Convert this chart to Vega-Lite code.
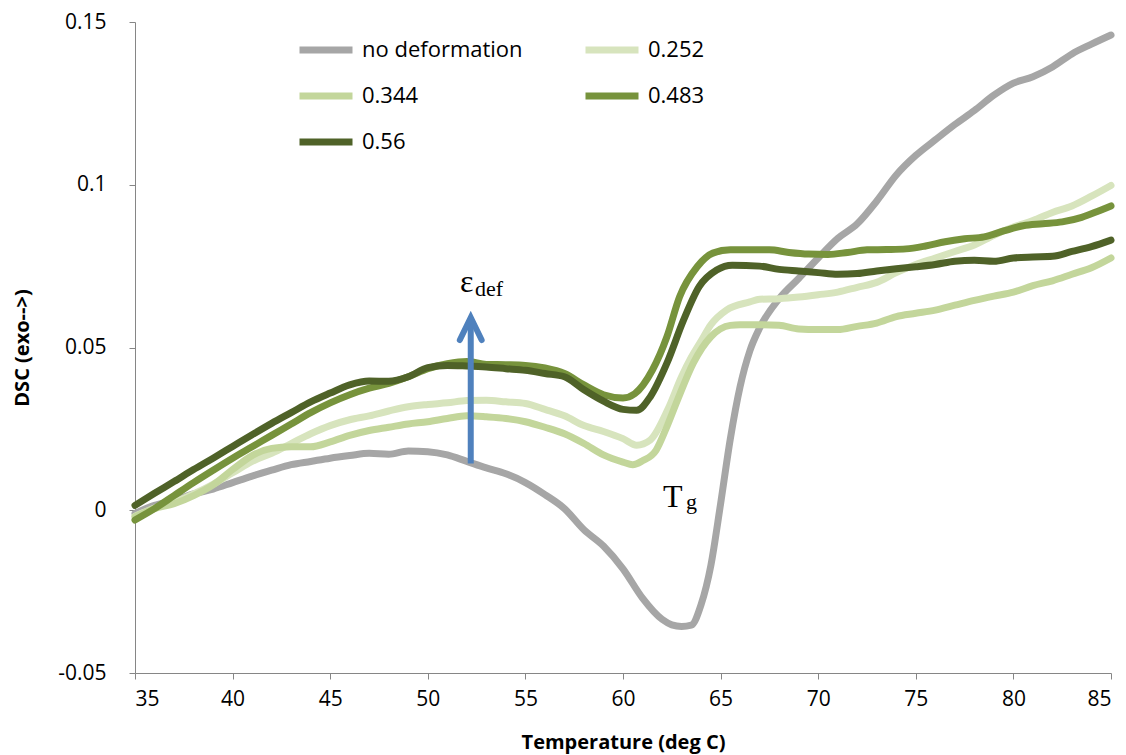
{
  "$schema": "https://vega.github.io/schema/vega-lite/v6.json",
  "width": 976,
  "height": 651,
  "autosize": {"type": "none"},
  "padding": {"left": 135, "top": 22, "right": 15, "bottom": 82},
  "background": "white",
  "config": {
    "view": {"stroke": null},
    "axis": {
      "grid": false,
      "domainColor": "#868686",
      "tickColor": "#868686",
      "tickSize": 6,
      "labelFont": "Open Sans",
      "labelFontSize": 21,
      "labelColor": "#000000",
      "titleFont": "Open Sans",
      "titleFontSize": 20,
      "titleFontWeight": "bold",
      "titleColor": "#000000"
    }
  },
  "datasets": {
    "curves": [
      {"s":"no deformation","T":35,"v":-0.001},{"s":"no deformation","T":36,"v":0.0015},{"s":"no deformation","T":37,"v":0.003},{"s":"no deformation","T":38,"v":0.005},{"s":"no deformation","T":39,"v":0.0065},{"s":"no deformation","T":40,"v":0.0085},{"s":"no deformation","T":41,"v":0.0105},{"s":"no deformation","T":42,"v":0.0123},{"s":"no deformation","T":43,"v":0.014},{"s":"no deformation","T":44,"v":0.015},{"s":"no deformation","T":45,"v":0.016},{"s":"no deformation","T":46,"v":0.0168},{"s":"no deformation","T":47,"v":0.0175},{"s":"no deformation","T":48,"v":0.0172},{"s":"no deformation","T":49,"v":0.0182},{"s":"no deformation","T":50,"v":0.018},{"s":"no deformation","T":51,"v":0.017},{"s":"no deformation","T":52,"v":0.015},{"s":"no deformation","T":53,"v":0.013},{"s":"no deformation","T":54,"v":0.0112},{"s":"no deformation","T":55,"v":0.0085},{"s":"no deformation","T":56,"v":0.0048},{"s":"no deformation","T":57,"v":0.0005},{"s":"no deformation","T":58,"v":-0.006},{"s":"no deformation","T":59,"v":-0.011},{"s":"no deformation","T":60,"v":-0.018},{"s":"no deformation","T":61,"v":-0.027},{"s":"no deformation","T":62,"v":-0.0335},{"s":"no deformation","T":62.5,"v":-0.0352},{"s":"no deformation","T":63,"v":-0.0357},{"s":"no deformation","T":63.5,"v":-0.0353},{"s":"no deformation","T":64,"v":-0.029},{"s":"no deformation","T":64.5,"v":-0.017},{"s":"no deformation","T":65,"v":0.002},{"s":"no deformation","T":65.5,"v":0.022},{"s":"no deformation","T":66,"v":0.038},{"s":"no deformation","T":66.5,"v":0.049},{"s":"no deformation","T":67,"v":0.056},{"s":"no deformation","T":68,"v":0.065},{"s":"no deformation","T":69,"v":0.0712},{"s":"no deformation","T":70,"v":0.0775},{"s":"no deformation","T":71,"v":0.0835},{"s":"no deformation","T":72,"v":0.088},{"s":"no deformation","T":73,"v":0.095},{"s":"no deformation","T":74,"v":0.103},{"s":"no deformation","T":75,"v":0.109},{"s":"no deformation","T":76,"v":0.1138},{"s":"no deformation","T":77,"v":0.1185},{"s":"no deformation","T":78,"v":0.1228},{"s":"no deformation","T":79,"v":0.1275},{"s":"no deformation","T":80,"v":0.1312},{"s":"no deformation","T":81,"v":0.1332},{"s":"no deformation","T":82,"v":0.1362},{"s":"no deformation","T":83,"v":0.1402},{"s":"no deformation","T":84,"v":0.1432},{"s":"no deformation","T":85,"v":0.146},

      {"s":"0.252","T":35,"v":-0.0018},{"s":"0.252","T":36,"v":0.0007},{"s":"0.252","T":37,"v":0.0025},{"s":"0.252","T":38,"v":0.005},{"s":"0.252","T":39,"v":0.008},{"s":"0.252","T":40,"v":0.0115},{"s":"0.252","T":41,"v":0.015},{"s":"0.252","T":42,"v":0.0175},{"s":"0.252","T":43,"v":0.0205},{"s":"0.252","T":44,"v":0.0235},{"s":"0.252","T":45,"v":0.026},{"s":"0.252","T":46,"v":0.0278},{"s":"0.252","T":47,"v":0.029},{"s":"0.252","T":48,"v":0.0305},{"s":"0.252","T":49,"v":0.0318},{"s":"0.252","T":50,"v":0.0325},{"s":"0.252","T":51,"v":0.033},{"s":"0.252","T":52,"v":0.0337},{"s":"0.252","T":53,"v":0.0338},{"s":"0.252","T":54,"v":0.0333},{"s":"0.252","T":55,"v":0.0328},{"s":"0.252","T":56,"v":0.031},{"s":"0.252","T":57,"v":0.029},{"s":"0.252","T":58,"v":0.026},{"s":"0.252","T":59,"v":0.0242},{"s":"0.252","T":60,"v":0.022},{"s":"0.252","T":60.7,"v":0.02},{"s":"0.252","T":61.4,"v":0.0216},{"s":"0.252","T":62.3,"v":0.031},{"s":"0.252","T":63,"v":0.041},{"s":"0.252","T":63.5,"v":0.047},{"s":"0.252","T":64,"v":0.052},{"s":"0.252","T":64.5,"v":0.057},{"s":"0.252","T":65.3,"v":0.0615},{"s":"0.252","T":66.5,"v":0.064},{"s":"0.252","T":67,"v":0.0648},{"s":"0.252","T":68,"v":0.065},{"s":"0.252","T":69,"v":0.0655},{"s":"0.252","T":70,"v":0.0662},{"s":"0.252","T":71,"v":0.067},{"s":"0.252","T":72,"v":0.0685},{"s":"0.252","T":73,"v":0.07},{"s":"0.252","T":74,"v":0.073},{"s":"0.252","T":75,"v":0.0755},{"s":"0.252","T":76,"v":0.0775},{"s":"0.252","T":77,"v":0.0795},{"s":"0.252","T":78,"v":0.0815},{"s":"0.252","T":79,"v":0.0845},{"s":"0.252","T":80,"v":0.087},{"s":"0.252","T":81,"v":0.089},{"s":"0.252","T":82,"v":0.0915},{"s":"0.252","T":83,"v":0.0935},{"s":"0.252","T":84,"v":0.0965},{"s":"0.252","T":85,"v":0.0998},

      {"s":"0.344","T":35,"v":-0.002},{"s":"0.344","T":36,"v":0.0005},{"s":"0.344","T":37,"v":0.002},{"s":"0.344","T":38,"v":0.0045},{"s":"0.344","T":39,"v":0.0078},{"s":"0.344","T":40,"v":0.0125},{"s":"0.344","T":41,"v":0.0168},{"s":"0.344","T":42,"v":0.019},{"s":"0.344","T":43,"v":0.0195},{"s":"0.344","T":44,"v":0.0195},{"s":"0.344","T":45,"v":0.021},{"s":"0.344","T":46,"v":0.023},{"s":"0.344","T":47,"v":0.0245},{"s":"0.344","T":48,"v":0.0255},{"s":"0.344","T":49,"v":0.0265},{"s":"0.344","T":50,"v":0.0272},{"s":"0.344","T":51,"v":0.0282},{"s":"0.344","T":52,"v":0.029},{"s":"0.344","T":53,"v":0.0287},{"s":"0.344","T":54,"v":0.0282},{"s":"0.344","T":55,"v":0.0272},{"s":"0.344","T":56,"v":0.0255},{"s":"0.344","T":57,"v":0.0235},{"s":"0.344","T":58,"v":0.0205},{"s":"0.344","T":59,"v":0.017},{"s":"0.344","T":60,"v":0.0148},{"s":"0.344","T":60.5,"v":0.014},{"s":"0.344","T":61,"v":0.0152},{"s":"0.344","T":61.7,"v":0.0185},{"s":"0.344","T":62.2,"v":0.025},{"s":"0.344","T":62.8,"v":0.034},{"s":"0.344","T":63.6,"v":0.0452},{"s":"0.344","T":64.5,"v":0.0533},{"s":"0.344","T":65.5,"v":0.0568},{"s":"0.344","T":66,"v":0.057},{"s":"0.344","T":67,"v":0.057},{"s":"0.344","T":68,"v":0.0568},{"s":"0.344","T":69,"v":0.0557},{"s":"0.344","T":70,"v":0.0555},{"s":"0.344","T":71,"v":0.0555},{"s":"0.344","T":72,"v":0.0565},{"s":"0.344","T":73,"v":0.0575},{"s":"0.344","T":74,"v":0.0595},{"s":"0.344","T":75,"v":0.0605},{"s":"0.344","T":76,"v":0.0615},{"s":"0.344","T":77,"v":0.063},{"s":"0.344","T":78,"v":0.0645},{"s":"0.344","T":79,"v":0.0658},{"s":"0.344","T":80,"v":0.067},{"s":"0.344","T":81,"v":0.069},{"s":"0.344","T":82,"v":0.0705},{"s":"0.344","T":83,"v":0.0725},{"s":"0.344","T":84,"v":0.0745},{"s":"0.344","T":85,"v":0.0775},

      {"s":"0.483","T":35,"v":-0.003},{"s":"0.483","T":36,"v":0.0005},{"s":"0.483","T":37,"v":0.0045},{"s":"0.483","T":38,"v":0.0085},{"s":"0.483","T":39,"v":0.0123},{"s":"0.483","T":40,"v":0.016},{"s":"0.483","T":41,"v":0.0195},{"s":"0.483","T":42,"v":0.023},{"s":"0.483","T":43,"v":0.0265},{"s":"0.483","T":44,"v":0.03},{"s":"0.483","T":45,"v":0.033},{"s":"0.483","T":46,"v":0.0355},{"s":"0.483","T":47,"v":0.0375},{"s":"0.483","T":48,"v":0.039},{"s":"0.483","T":49,"v":0.041},{"s":"0.483","T":50,"v":0.0435},{"s":"0.483","T":51,"v":0.045},{"s":"0.483","T":52,"v":0.0457},{"s":"0.483","T":53,"v":0.0448},{"s":"0.483","T":54,"v":0.0447},{"s":"0.483","T":55,"v":0.0445},{"s":"0.483","T":56,"v":0.0437},{"s":"0.483","T":57,"v":0.042},{"s":"0.483","T":58,"v":0.0385},{"s":"0.483","T":59,"v":0.0355},{"s":"0.483","T":60,"v":0.0345},{"s":"0.483","T":60.6,"v":0.0358},{"s":"0.483","T":61.5,"v":0.043},{"s":"0.483","T":62.25,"v":0.0533},{"s":"0.483","T":62.9,"v":0.0656},{"s":"0.483","T":63.8,"v":0.0748},{"s":"0.483","T":64.6,"v":0.079},{"s":"0.483","T":65.5,"v":0.08},{"s":"0.483","T":66.5,"v":0.08},{"s":"0.483","T":67.5,"v":0.08},{"s":"0.483","T":68.5,"v":0.0792},{"s":"0.483","T":69.5,"v":0.0787},{"s":"0.483","T":70.5,"v":0.0786},{"s":"0.483","T":71.5,"v":0.0792},{"s":"0.483","T":72.5,"v":0.08},{"s":"0.483","T":73.5,"v":0.0801},{"s":"0.483","T":74.5,"v":0.0803},{"s":"0.483","T":75.5,"v":0.0812},{"s":"0.483","T":76.5,"v":0.0825},{"s":"0.483","T":77.5,"v":0.0834},{"s":"0.483","T":78.5,"v":0.084},{"s":"0.483","T":79.5,"v":0.0858},{"s":"0.483","T":80.5,"v":0.0874},{"s":"0.483","T":81.5,"v":0.088},{"s":"0.483","T":82.5,"v":0.0886},{"s":"0.483","T":83.5,"v":0.09},{"s":"0.483","T":84.3,"v":0.0918},{"s":"0.483","T":85,"v":0.0935},

      {"s":"0.56","T":35,"v":0.0015},{"s":"0.56","T":36,"v":0.0052},{"s":"0.56","T":37,"v":0.0088},{"s":"0.56","T":38,"v":0.0125},{"s":"0.56","T":39,"v":0.016},{"s":"0.56","T":40,"v":0.0196},{"s":"0.56","T":41,"v":0.0232},{"s":"0.56","T":42,"v":0.0267},{"s":"0.56","T":43,"v":0.03},{"s":"0.56","T":44,"v":0.0333},{"s":"0.56","T":45,"v":0.036},{"s":"0.56","T":46,"v":0.0385},{"s":"0.56","T":47,"v":0.0397},{"s":"0.56","T":48,"v":0.0396},{"s":"0.56","T":49,"v":0.041},{"s":"0.56","T":50,"v":0.0438},{"s":"0.56","T":51,"v":0.0445},{"s":"0.56","T":52,"v":0.0443},{"s":"0.56","T":53,"v":0.044},{"s":"0.56","T":54,"v":0.0435},{"s":"0.56","T":55,"v":0.043},{"s":"0.56","T":56,"v":0.042},{"s":"0.56","T":57,"v":0.041},{"s":"0.56","T":58,"v":0.037},{"s":"0.56","T":59,"v":0.0335},{"s":"0.56","T":60,"v":0.031},{"s":"0.56","T":60.7,"v":0.0307},{"s":"0.56","T":61.4,"v":0.0349},{"s":"0.56","T":62.25,"v":0.0452},{"s":"0.56","T":63.1,"v":0.0584},{"s":"0.56","T":63.9,"v":0.0687},{"s":"0.56","T":64.8,"v":0.0738},{"s":"0.56","T":65.6,"v":0.0753},{"s":"0.56","T":67,"v":0.075},{"s":"0.56","T":68,"v":0.074},{"s":"0.56","T":69,"v":0.0735},{"s":"0.56","T":70,"v":0.073},{"s":"0.56","T":71,"v":0.0725},{"s":"0.56","T":72,"v":0.0727},{"s":"0.56","T":73,"v":0.0735},{"s":"0.56","T":74,"v":0.0742},{"s":"0.56","T":75,"v":0.0748},{"s":"0.56","T":76,"v":0.0755},{"s":"0.56","T":77,"v":0.0765},{"s":"0.56","T":78,"v":0.0768},{"s":"0.56","T":79,"v":0.0765},{"s":"0.56","T":80,"v":0.0775},{"s":"0.56","T":81,"v":0.0778},{"s":"0.56","T":82,"v":0.078},{"s":"0.56","T":83,"v":0.0795},{"s":"0.56","T":84,"v":0.081},{"s":"0.56","T":85,"v":0.083}
    ],
    "arrowShaft": [{"T": 52.2, "v0": 0.0144, "v1": 0.0575}],
    "arrowHead": [{"T": 51.64, "v": 0.0523, "k": 0}, {"T": 52.2, "v": 0.0592, "k": 1}, {"T": 52.76, "v": 0.0523, "k": 2}],
    "bigText": [{"T": 51.65, "v": 0.067, "t": "ε"}, {"T": 62.05, "v": 0.001, "t": "T"}],
    "subText": [{"T": 52.42, "v": 0.0658, "t": "def"}, {"T": 63.23, "v": 0.0004, "t": "g"}]
  },
  "layer": [
    {
      "data": {"name": "curves"},
      "mark": {"type": "line", "interpolate": "monotone", "strokeWidth": 7, "strokeCap": "round", "strokeJoin": "round"},
      "encoding": {
        "x": {
          "field": "T", "type": "quantitative",
          "scale": {"domain": [35, 85], "nice": false, "zero": false},
          "axis": {"values": [35, 40, 45, 50, 55, 60, 65, 70, 75, 80, 85], "title": "Temperature (deg C)", "labelPadding": 9, "titleX": 488, "titleY": 69, "titleBaseline": "middle", "titleAlign": "center"}
        },
        "y": {
          "field": "v", "type": "quantitative",
          "scale": {"domain": [-0.05, 0.15], "nice": false, "zero": false},
          "axis": {"values": [-0.05, 0, 0.05, 0.1, 0.15], "labelExpr": "replace(format(datum.value, '.2~f'), '−', '-')", "title": "DSC (exo-->)", "labelPadding": 23, "titleX": -113, "titleY": 325.5, "titleBaseline": "middle", "titleAlign": "center", "titleAngle": -90}
        },
        "color": {
          "field": "s", "type": "nominal",
          "sort": ["no deformation", "0.252", "0.344", "0.483", "0.56"],
          "scale": {"domain": ["no deformation", "0.252", "0.344", "0.483", "0.56"], "range": ["#A6A6A6", "#D7E4BD", "#C3D69B", "#77933C", "#4F6228"]},
          "legend": {
            "title": null,
            "orient": "none",
            "direction": "horizontal",
            "legendX": 161,
            "legendY": -2,
            "columns": 2,
            "columnPadding": 48,
            "rowPadding": 2,
            "symbolType": "stroke",
            "symbolSize": 2809,
            "symbolStrokeWidth": 7,
            "labelFont": "Open Sans",
            "labelFontSize": 22,
            "labelLimit": 400,
            "labelColor": "#000000",
            "labelOffset": 6
          }
        },
        "order": {"field": "T", "type": "quantitative"}
      }
    },
    {
      "data": {"name": "arrowShaft"},
      "mark": {"type": "rule", "color": "#4F81BD", "strokeWidth": 6},
      "encoding": {
        "x": {"field": "T", "type": "quantitative"},
        "y": {"field": "v0", "type": "quantitative"},
        "y2": {"field": "v1"}
      }
    },
    {
      "data": {"name": "arrowHead"},
      "mark": {"type": "line", "color": "#4F81BD", "strokeWidth": 6, "strokeCap": "round", "strokeJoin": "miter"},
      "encoding": {
        "x": {"field": "T", "type": "quantitative"},
        "y": {"field": "v", "type": "quantitative"},
        "order": {"field": "k", "type": "quantitative"}
      }
    },
    {
      "data": {"name": "bigText"},
      "mark": {"type": "text", "font": "Liberation Serif", "fontSize": 32, "align": "left", "baseline": "alphabetic", "color": "#000000"},
      "encoding": {
        "x": {"field": "T", "type": "quantitative"},
        "y": {"field": "v", "type": "quantitative"},
        "text": {"field": "t"}
      }
    },
    {
      "data": {"name": "subText"},
      "mark": {"type": "text", "font": "Liberation Serif", "fontSize": 22, "align": "left", "baseline": "alphabetic", "color": "#000000"},
      "encoding": {
        "x": {"field": "T", "type": "quantitative"},
        "y": {"field": "v", "type": "quantitative"},
        "text": {"field": "t"}
      }
    }
  ]
}
